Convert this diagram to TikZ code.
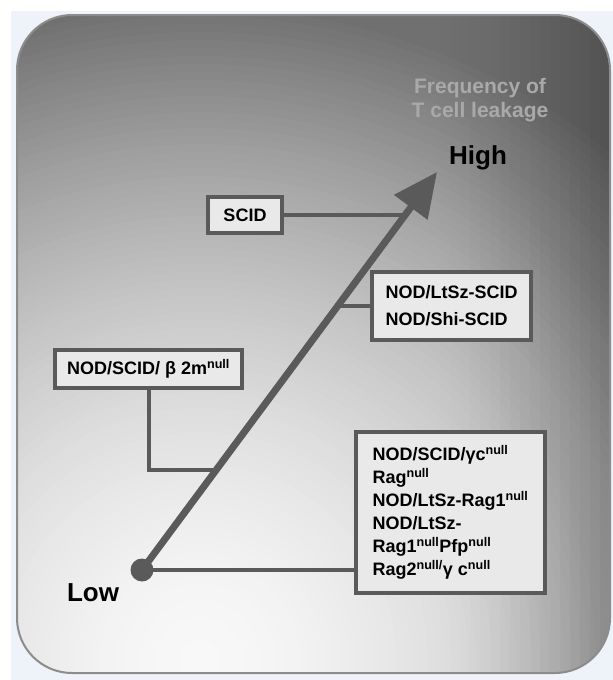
\documentclass[tikz,border=0pt]{standalone}
\usepackage{fontspec}
\setmainfont{Liberation Sans}
\usetikzlibrary{arrows.meta}

\definecolor{pagebg}{HTML}{EEF2F9}
\definecolor{panelrim}{HTML}{8C8C8C}
\definecolor{darkline}{HTML}{5A5A5A}
\definecolor{boxfill}{HTML}{E9E9E9}
\definecolor{fadetext}{HTML}{A9A9A9}

\tikzset{
  modelbox/.style={draw=darkline, line width=4.5pt, fill=boxfill,
    inner sep=0pt, font=\bfseries\fontsize{18}{23}\selectfont},
  link/.style={draw=darkline, line width=4pt},
}

\begin{document}
\begin{tikzpicture}[x=1pt,y=-1pt]
	\useasboundingbox (0,0) rectangle (613,680);

	% Page and panel
	\fill[white] (0,0) rectangle (613,680);
	\fill[pagebg] (11,11) rectangle (613,680);
	\begin{scope}
		\clip[rounded corners=55pt] (17,15) rectangle (610,673);
		\fill[black!56] (0,0) rectangle (613,680);
		% light glow round the lower left
		\foreach \r [evaluate=\r as \pc using 100*(1-(248-136*(\r/660)^1.7)/255)] in {660,652,...,4}
			\fill[black!\pc] (200,660) circle [radius=\r];
		% darker towards the right edge
		\foreach \k [evaluate=\k as \op using 0.22*(2*\k+1)/324] in {0,...,17}
			\fill[black, fill opacity=\op] (430+10*\k,10) rectangle (615,680);
	\end{scope}
	\draw[panelrim, line width=2pt, rounded corners=55pt] (17,15) rectangle (610,673);

	% Labels
	\node (freq) [text=fadetext, align=center,
		font=\bfseries\fontsize{21}{24}\selectfont] at (480,100) {Frequency of\\T cell leakage};
	\node (high) [font=\bfseries\fontsize{26}{26}\selectfont] at (478,158) {High};
	\node (low) [font=\bfseries\fontsize{26}{26}\selectfont] at (93,593) {Low};

	% Boxes
	\node (scid) [modelbox, minimum width=74pt, minimum height=36pt] at (245,215) {SCID};
	\node (ltsz) [modelbox, minimum width=159pt, minimum height=68pt, align=left,
		font=\bfseries\fontsize{18}{27}\selectfont] at (451.5,306) {NOD/LtSz-SCID\\NOD/Shi-SCID};
	\node (btwom) [modelbox, minimum width=187pt, minimum height=38pt] at (148.5,369)
		{NOD/SCID/ β 2m\textsuperscript{null}};
	\node (rag) [modelbox, minimum width=189pt, minimum height=161pt, align=left] at (450.5,512.5)
		{NOD/SCID/γc\textsuperscript{null}\\
		 Rag\textsuperscript{null}\\
		 NOD/LtSz-Rag1\textsuperscript{null}\\
		 NOD/LtSz-\\
		 Rag1\textsuperscript{null}Pfp\textsuperscript{null}\\
		 Rag2\textsuperscript{null/}γ c\textsuperscript{null}};

	% Points on the arrow
	\coordinate (j1) at (405,215);
	\coordinate (j2) at (338,306);
	\coordinate (j3) at (216,470);
	\coordinate (tip) at (437,172);
	\node (lowdot) [circle, fill=darkline, inner sep=0pt, minimum size=23pt] at (142,570) {};

	% Draw edges
	\draw[link] (scid.east) -- (j1);
	\draw[link] (ltsz.west) -- (j2);
	\draw[link] (btwom.south) -- (btwom.south |- j3) -- (j3);
	\draw[link] (lowdot.center) -- (lowdot.center -| rag.west);

	\draw[darkline, line width=7pt, -{Triangle[length=44pt, width=40pt]}] (lowdot.center) -- (tip);
\end{tikzpicture}
\end{document}
